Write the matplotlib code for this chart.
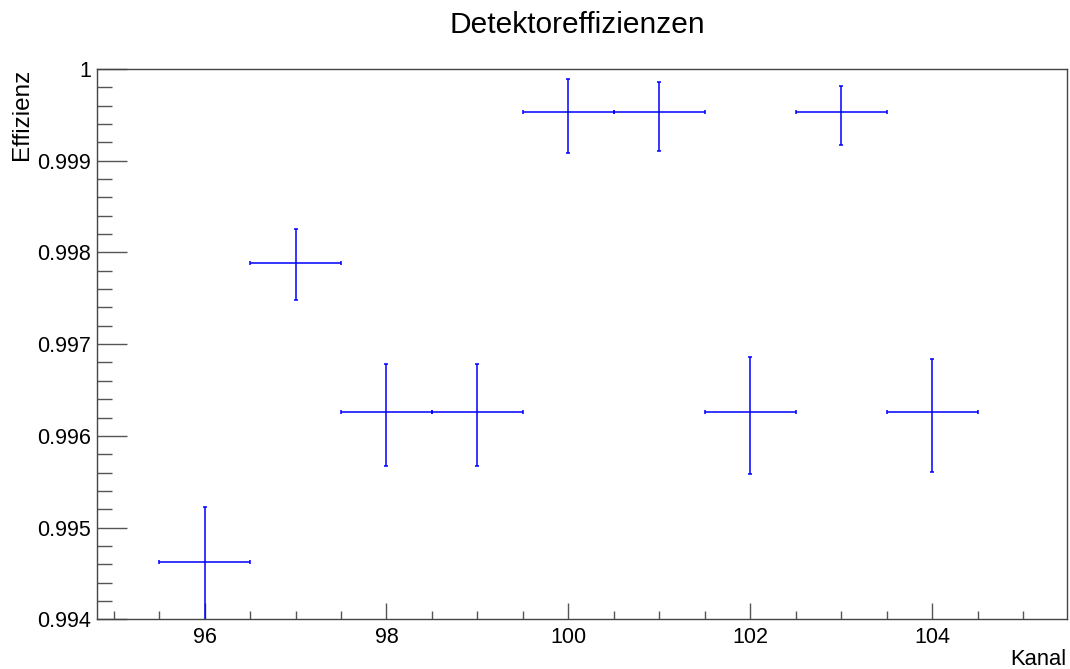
import matplotlib
matplotlib.use('Agg')
import matplotlib.pyplot as plt
from matplotlib.ticker import MultipleLocator
import numpy as np

# Data
kanal = [96, 97, 98, 99, 100, 101, 102, 103, 104]
effizienz = [0.994622, 0.997890, 0.996261, 0.996261, 0.999529,
             0.999529, 0.996261, 0.999529, 0.996261]
err_low = [0.00077, 0.000408, 0.000593, 0.000593, 0.000447,
           0.000419, 0.000673, 0.000360, 0.000658]
err_high = [0.000599, 0.000366, 0.000523, 0.000523, 0.000363,
            0.000334, 0.000596, 0.000283, 0.000578]
x_err = [0.5] * len(kanal)

title = "Detektoreffizienzen"
xlabel = "Kanal"
ylabel = "Effizienz"

plt.rcParams['font.family'] = ['Liberation Sans', 'DejaVu Sans']

fig = plt.figure(figsize=(10.70, 6.69), dpi=100)
ax = fig.add_axes([0.0909, 0.0743, 0.9060, 0.8226])

ax.errorbar(kanal, effizienz, xerr=x_err, yerr=[err_low, err_high],
            fmt='none', ecolor='#0000ff', elinewidth=1.1, capsize=1.5,
            capthick=1.1)

ax.set_xlim(94.82, 105.48)
ax.set_ylim(0.994, 1.0)

ax.xaxis.set_major_locator(MultipleLocator(2))
ax.xaxis.set_minor_locator(MultipleLocator(0.5))
ax.yaxis.set_major_locator(MultipleLocator(0.001))
ax.yaxis.set_minor_locator(MultipleLocator(0.0002))
ax.yaxis.set_major_formatter(plt.FuncFormatter(lambda v, p: ('%g' % round(v, 6))))

ax.tick_params(axis='y', which='major', direction='in', length=21.6, width=1.0,
               color='#555555', labelsize=15.5, pad=4.5)
ax.tick_params(axis='y', which='minor', direction='in', length=10.8, width=1.0,
               color='#555555')
ax.tick_params(axis='x', which='major', direction='in', length=11.5, width=1.0,
               color='#555555', labelsize=15.5, pad=5.5)
ax.tick_params(axis='x', which='minor', direction='in', length=5.8, width=1.0,
               color='#555555')
for s in ax.spines.values():
    s.set_color('#444444')
    s.set_linewidth(1.0)

fig.text(0.5397, 1 - 33 / 669, title, ha='center', va='baseline', fontsize=21.5)
fig.text(0.9965, 1 - 665 / 669, xlabel, ha='right', va='baseline', fontsize=15.8)
fig.text(0.0205, 0.897, ylabel, ha='center', va='top', rotation=90, fontsize=17.5)

fig.savefig('out.png', dpi=100)
